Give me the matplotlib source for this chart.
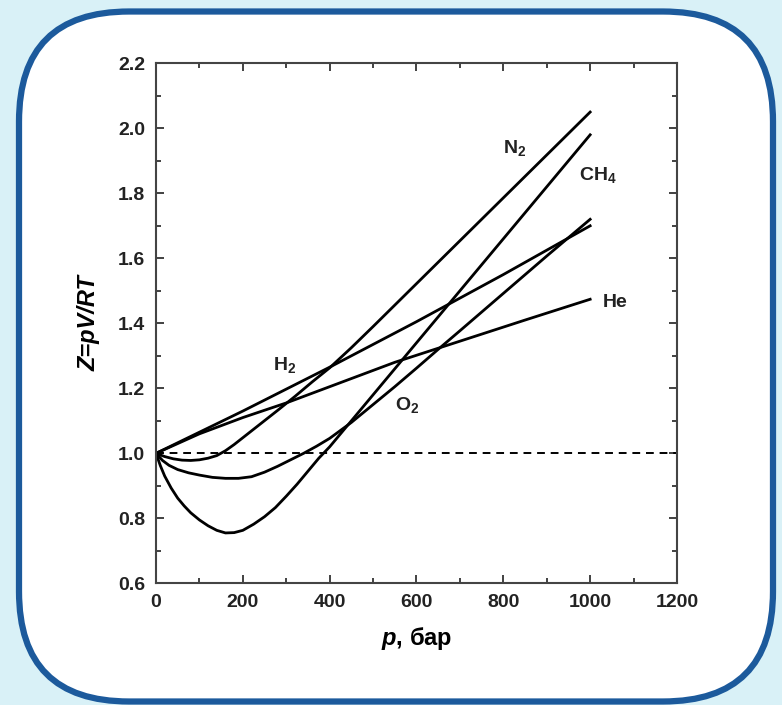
import matplotlib.pyplot as plt
from matplotlib.patches import FancyBboxPatch
from matplotlib.ticker import MultipleLocator

plt.rcParams['font.family'] = ['Liberation Sans', 'DejaVu Sans']
plt.rcParams['mathtext.fontset'] = 'custom'
plt.rcParams['mathtext.rm'] = 'Liberation Sans'
plt.rcParams['mathtext.bf'] = 'Liberation Sans:bold'
plt.rcParams['mathtext.bfit'] = 'Liberation Sans:italic:bold'
plt.rcParams['mathtext.default'] = 'regular'

# compressibility factor Z vs pressure (bar)
n2_p = [0, 20, 40, 60, 80, 100, 120, 140, 160, 180, 200, 240, 280, 320, 360, 400, 450,
        500, 600, 700, 800, 900, 1000]
n2_z = [1.0, 0.99, 0.983, 0.979, 0.978, 0.98, 0.985, 0.993, 1.008, 1.027, 1.048, 1.09,
        1.132, 1.175, 1.22, 1.263, 1.325, 1.39, 1.522, 1.654, 1.786, 1.918, 2.05]

ch4_p = [0, 10, 20, 35, 50, 65, 80, 100, 120, 140, 160, 180, 200, 225, 250, 275, 300,
         325, 350, 375, 400, 425, 450, 500, 550, 600, 650, 700, 800, 900, 1000]
ch4_z = [1.0, 0.962, 0.93, 0.893, 0.862, 0.838, 0.817, 0.795, 0.777, 0.763, 0.755, 0.756,
         0.763, 0.782, 0.805, 0.833, 0.868, 0.905, 0.945, 0.985, 1.02, 1.06, 1.10, 1.18,
         1.26, 1.34, 1.42, 1.50, 1.66, 1.82, 1.98]

o2_p = [0, 15, 30, 50, 75, 100, 130, 160, 190, 220, 250, 280, 310, 340, 370, 400, 450,
        500, 550, 600, 650, 700, 800, 900, 1000]
o2_z = [1.0, 0.978, 0.963, 0.95, 0.94, 0.933, 0.926, 0.923, 0.923, 0.928, 0.942, 0.96,
        0.98, 1.0, 1.022, 1.046, 1.095, 1.15, 1.205, 1.262, 1.32, 1.377, 1.492, 1.607, 1.72]

h2_p = [0, 200, 400, 600, 800, 1000]
h2_z = [1.0, 1.13, 1.265, 1.405, 1.55, 1.70]

he_p = [0, 100, 200, 300, 400, 550, 700, 850, 1000]
he_z = [1.0, 1.06, 1.11, 1.155, 1.205, 1.28, 1.345, 1.41, 1.474]

# gas labels: (text, p, Z)
labels = [("N$_2$", 827, 1.94), ("CH$_4$", 1018, 1.856), ("He", 1057, 1.463),
          ("H$_2$", 297, 1.272), ("O$_2$", 578, 1.149)]

fig = plt.figure(figsize=(7.82, 7.05), dpi=100)
fig.patch.set_facecolor('#d9f1f7')

# rounded white panel with blue border (drawn in inches so corners stay round)
panel = FancyBboxPatch((0.19, 0.035), 7.54, 6.9, boxstyle="round,pad=0,rounding_size=1.1",
                       transform=fig.dpi_scale_trans, facecolor='white',
                       edgecolor='#1c5a9c', linewidth=4.5, zorder=-5)
fig.patches.append(panel)

ax = fig.add_axes([0.1995, 0.1726, 0.6662, 0.7376])
ax.set_facecolor('none')
ax.set_zorder(5)

for p, z in [(n2_p, n2_z), (ch4_p, ch4_z), (o2_p, o2_z), (h2_p, h2_z), (he_p, he_z)]:
    ax.plot(p, z, color='black', lw=2.0, solid_joinstyle='round')

ax.axhline(1.0, color='black', lw=1.4, ls=(0, (4, 3)))

for txt, x, y in labels:
    ax.text(x, y, txt, fontsize=14, fontweight='bold', color='#222222',
            ha='center', va='center')

ax.set_xlim(0, 1200)
ax.set_ylim(0.6, 2.2)
ax.xaxis.set_major_locator(MultipleLocator(200))
ax.xaxis.set_minor_locator(MultipleLocator(100))
ax.yaxis.set_major_locator(MultipleLocator(0.2))
ax.yaxis.set_minor_locator(MultipleLocator(0.1))
ax.yaxis.set_major_formatter(plt.FormatStrFormatter('%.1f'))

ax.tick_params(which='both', direction='in', top=True, right=True, color='#333333')
ax.tick_params(which='major', length=6, width=1.3, labelsize=14, pad=8)
ax.tick_params(which='minor', length=3.5, width=1.3)
for lab in ax.get_xticklabels() + ax.get_yticklabels():
    lab.set_fontweight('bold')
    lab.set_color('#222222')
for s in ax.spines.values():
    s.set_linewidth(1.5)
    s.set_color('#444444')

ax.set_xlabel('$\\mathbfit{p}$, бар', fontsize=17, fontweight='bold', labelpad=10)
ax.set_ylabel('Z=pV/RT', fontsize=17, fontweight='bold', fontstyle='italic', labelpad=12)

fig.savefig('out.png', dpi=100, facecolor=fig.get_facecolor())
